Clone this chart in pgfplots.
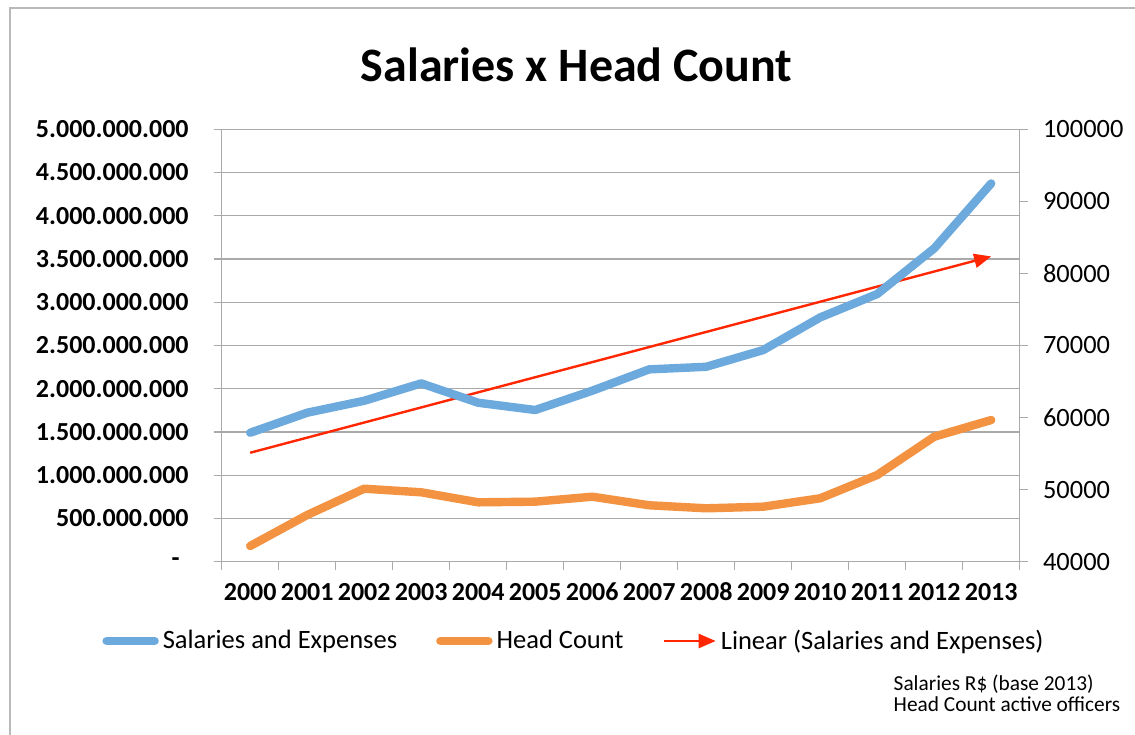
\documentclass[border=0pt]{standalone}
\usepackage{fontspec}
\setmainfont{Carlito}
\usepackage{pgfplots}
\pgfplotsset{compat=1.18}
\usetikzlibrary{arrows.meta}
\definecolor{salblue}{RGB}{108,169,220}
\definecolor{hcorange}{RGB}{243,147,66}
\definecolor{trendred}{RGB}{255,38,0}
\definecolor{gridgray}{RGB}{170,170,170}
\definecolor{framegray}{RGB}{185,185,185}
\pgfplotsset{redlegend/.style={legend image code/.code={\draw[##1] (0pt,0pt) -- (26pt,0pt);}}}
\begin{document}
\begin{tikzpicture}[x=0.5pt,y=0.5pt]
\useasboundingbox (0,0) rectangle (1135,734);
\fill[white] (0,0) rectangle (1135,734);
\draw[framegray, line width=0.6pt] (10,-5) -- (10,726) -- (1140,726);
\node[font=\fontsize{24}{28}\selectfont\bfseries, anchor=base, inner sep=0pt] at (576.7,652.3) {Salaries x Head Count};
\node[font=\fontsize{10.67}{13}\selectfont, anchor=base west, inner sep=0pt] at (893.3,43.3) {Salaries R\$ (base 2013)};
\node[font=\fontsize{10.67}{13}\selectfont, anchor=base west, inner sep=0pt] at (893.3,22.3) {Head Count active officers};

\begin{axis}[
  at={(110.85pt,86.15pt)}, anchor=south west,
  scale only axis, width=399pt, height=216.2pt,
  xmin=-0.5, xmax=13.5, ymin=0, ymax=5000000000,
  axis y line*=left, axis x line*=bottom,
  axis line style={gridgray, line width=0.6pt, -},
  xtick={0,1,2,3,4,5,6,7,8,9,10,11,12,13},
  xticklabels={2000,2001,2002,2003,2004,2005,2006,2007,2008,2009,2010,2011,2012,2013},
  minor xtick={-0.5,0.5,1.5,2.5,3.5,4.5,5.5,6.5,7.5,8.5,9.5,10.5,11.5,12.5,13.5},
  every major x tick/.append style={draw=none},
  every minor x tick/.append style={gridgray, line width=0.6pt},
  ytick={0,500000000,1000000000,1500000000,2000000000,2500000000,3000000000,3500000000,4000000000,4500000000,5000000000},
  yticklabels={{-\kern4.5pt},500.000.000,1.000.000.000,1.500.000.000,2.000.000.000,2.500.000.000,3.000.000.000,3.500.000.000,4.000.000.000,4.500.000.000,5.000.000.000},
  scaled y ticks=false,
  ytick style={gridgray, line width=0.6pt},
  tick align=outside, major tick length=4pt, minor tick length=4pt,
  ymajorgrids, major grid style={gridgray, line width=0.6pt},
  yticklabel style={font=\fontsize{13}{15}\selectfont\bfseries, anchor=east, inner sep=0pt, xshift=-12.35pt},
  xticklabel style={font=\fontsize{13}{15}\selectfont\bfseries, anchor=base, inner sep=0pt, yshift=-15.6pt},
  legend columns=3,
  legend style={at={(-0.150,-0.1834)}, anchor=west, draw=none, fill=none, inner sep=0pt,
    column sep=2pt, /tikz/every even column/.append style={column sep=19.5pt},
    nodes={inner sep=0pt, font=\fontsize{13.25}{16}\selectfont}},
  legend image code/.code={\draw[#1] (0pt,0pt) -- (24pt,0pt);},
]
\addplot[trendred, line width=1.2pt, -{Triangle[length=8.5pt,width=7pt]}, forget plot]
  coordinates {(0,1260000000) (13,3530000000)};
\addplot[salblue, line width=4.2pt, line cap=round, line join=round]
  coordinates {(0,1491000000) (1,1723000000) (2,1861000000) (3,2062000000) (4,1838000000)
    (5,1754000000) (6,1977000000) (7,2224000000) (8,2254000000) (9,2447000000)
    (10,2825000000) (11,3095000000) (12,3623000000) (13,4374000000)};
\addlegendentry{Salaries and Expenses}
\addlegendimage{hcorange, line width=4.2pt, line cap=round}
\addlegendentry{Head Count}
\addlegendimage{trendred, line width=1.2pt, -{Triangle[length=8.5pt,width=7pt]}, redlegend}
\addlegendentry{Linear (Salaries and Expenses)}
\end{axis}

\begin{axis}[
  at={(110.85pt,86.15pt)}, anchor=south west,
  scale only axis, width=399pt, height=216.2pt,
  xmin=-0.5, xmax=13.5, ymin=40000, ymax=100000,
  axis y line*=right, axis x line=none,
  axis line style={gridgray, line width=0.6pt, -},
  ytick={40000,50000,60000,70000,80000,90000,100000},
  yticklabels={40000,50000,60000,70000,80000,90000,100000},
  scaled y ticks=false,
  ytick style={gridgray, line width=0.6pt},
  tick align=outside, major tick length=4pt,
  yticklabel style={font=\fontsize{13.2}{15}\selectfont, anchor=west, inner sep=0pt, xshift=7.5pt},
]
\addplot[hcorange, line width=4.2pt, line cap=round, line join=round]
  coordinates {(0,42180) (1,46480) (2,50130) (3,49630) (4,48240) (5,48330) (6,49020)
    (7,47830) (8,47410) (9,47630) (10,48800) (11,52030) (12,57340) (13,59660)};
\end{axis}
\end{tikzpicture}
\end{document}
